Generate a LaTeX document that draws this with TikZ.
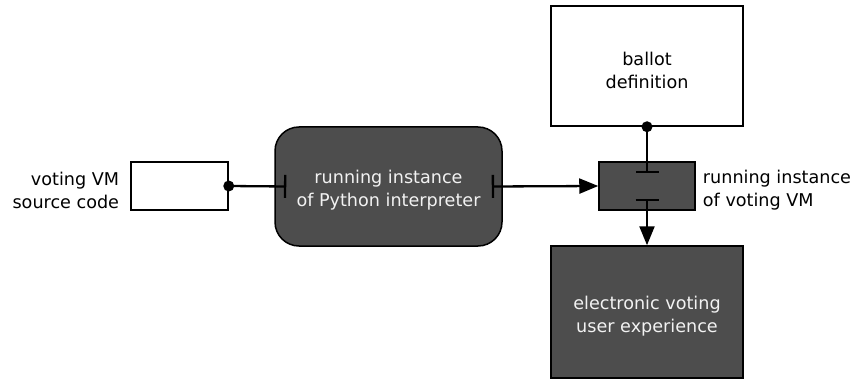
\documentclass[tikz,border=0pt]{standalone}
\usepackage{fontspec}
\setmainfont{DejaVu Sans}
\usetikzlibrary{arrows.meta,calc}
\definecolor{boxdark}{HTML}{4D4D4D}
\definecolor{textlight}{HTML}{F2F2F2}
\begin{document}
\begin{tikzpicture}[x=1pt,y=-1pt,
  txt/.style={font=\fontsize{17.6}{23}\selectfont, align=center, inner sep=0pt},
  lighttxt/.style={txt, text=textlight},
  lightbox/.style={draw=black, line width=1.5pt, fill=white, inner sep=0pt},
  darkbox/.style={draw=black, line width=1.5pt, fill=boxdark, inner sep=0pt},
  conn/.style={line width=2.3pt, draw=black},
  dot/.style={circle, fill=black, inner sep=0pt, minimum size=11pt}
]
\useasboundingbox (0,0) rectangle (858,379);

\node[lightbox, minimum width=97pt, minimum height=48pt] (src) at (179.5,186) {};
\node[darkbox, rounded corners=24pt, minimum width=227pt, minimum height=119pt] (py) at (388.5,186.5) {};
\node[darkbox, minimum width=96pt, minimum height=48pt] (vm) at (647,186) {};
\node[lightbox, minimum width=192pt, minimum height=120pt] (ballot) at (647,66) {};
\node[darkbox, minimum width=192pt, minimum height=132pt] (ux) at (647,312) {};

\node[lighttxt] (pytext) at ($(py.center)+(0,-4pt)$) {running instance\\of Python interpreter};
\node[txt] (ballottext) at ($(ballot.center)+(0,-4pt)$) {ballot\\definition};
\node[lighttxt] (uxtext) at ($(ux.center)+(0,-4pt)$) {electronic voting\\user experience};

\node[txt, align=right, anchor=east] (srclabel) at ($(src.west)+(-11pt,-4pt)$) {voting VM\\source code};
\node[txt, align=left, anchor=west] (vmlabel) at ($(vm.east)+(7pt,-4pt)$) {running instance\\of voting VM};

\coordinate (pyin) at ($(py.west)+(12pt,0)$);
\coordinate (pyout) at ($(py.east)+(-11pt,0)$);
\coordinate (vmin) at ($(vm.north)+(0,-12pt)$);
\coordinate (vmout) at ($(vm.south)+(0,12pt)$);

\draw[conn, -{Bar[width=23pt]}] (src.east) -- (pyin);
\node[dot] (srcdot) at (src.east) {};
\draw[conn, {Bar[width=23pt]}-{Triangle[length=19pt,width=15pt]}] (pyout) -- (vm.west);
\draw[conn, -{Bar[width=23pt]}] (ballot.south) -- (vmin);
\node[dot] (ballotdot) at (ballot.south) {};
\draw[conn, {Bar[width=23pt]}-{Triangle[length=19pt,width=15pt]}] (vmout) -- (ux.north);
\end{tikzpicture}
\end{document}
